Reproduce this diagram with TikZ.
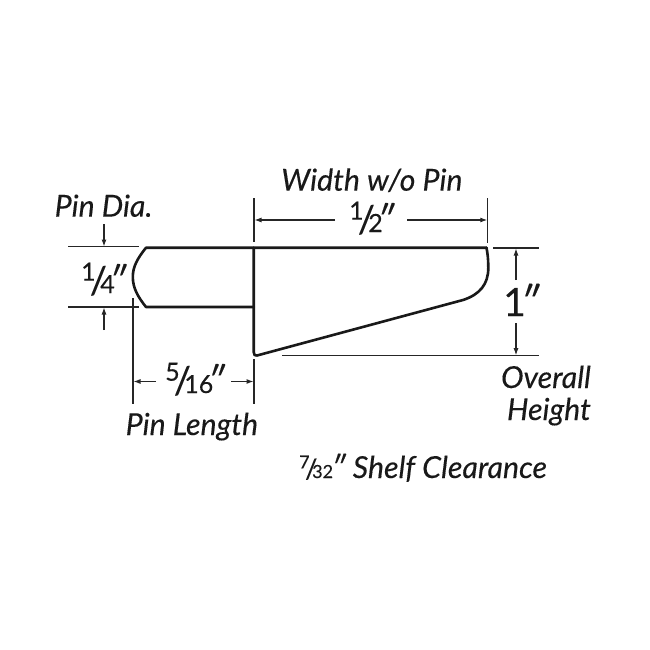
\documentclass[tikz,border=0pt]{standalone}
\usepackage{fontspec}
\setmainfont{Lato}[FakeBold=0.25]
\usetikzlibrary{arrows.meta}
\newcommand{\frc}[2]{\raisebox{.44em}{\fontsize{25}{28}\selectfont #1}\kern-.21em\raisebox{-.03em}{\fontsize{38}{40}\selectfont /}\kern-.24em{\fontsize{25}{28}\selectfont #2}}
\newcommand{\prm}[2]{\kern#2\relax{\fontsize{#1}{#1}\selectfont\itshape ″}}
\tikzset{
  x=1pt,y=-1pt,
  part/.style={line width=2.6pt,line join=round,line cap=round,black!90},
  ext/.style={line width=1.1pt,black!85},
  dim/.style={line width=1.1pt,black!85,-{Latex[length=7pt,width=5pt]}},
  lab/.style={inner sep=0pt,anchor=base west,font=\fontsize{30.3}{34}\selectfont\itshape,text=black!90},
  num/.style={inner sep=0pt,anchor=base west,font=\fontsize{28}{34}\selectfont,text=black!90}
}
\begin{document}
\begin{tikzpicture}
\useasboundingbox (0,0) rectangle (650,650);
\coordinate (pinTL) at (146,247.7);
\coordinate (pinBL) at (146,307);
\coordinate (pinBR) at (253.7,307);
\coordinate (wallT) at (253.7,247.7);
\coordinate (topR) at (486.5,247.7);
\coordinate (wedge) at (463,300);
\coordinate (wallB) at (257,355.5);
\draw[part] (topR) -- (pinTL) .. controls (137,259) and (132.8,267) .. (132.8,277) .. controls (132.8,288) and (138,297) .. (pinBL) -- (pinBR);
\draw[part] (wallT) -- (253.7,352) .. controls (253.7,355) and (255,356) .. (wallB) -- (wedge) .. controls (480,294.5) and (488.3,284) .. (488.3,268) .. controls (488.3,259) and (487.5,253) .. (topR);
\coordinate (a1) at (68,246.7); \coordinate (a2) at (139,246.7);
\coordinate (b1) at (68,307); \coordinate (b2) at (139,307);
\draw[ext] (a1) -- (a2);
\draw[ext] (b1) -- (b2);
\coordinate (c1) at (133,298); \coordinate (c2) at (133,404);
\draw[ext] (c1) -- (c2);
\coordinate (d1) at (254,359); \coordinate (d2) at (254,404);
\draw[ext] (d1) -- (d2);
\coordinate (e1) at (254,198); \coordinate (e2) at (254,242);
\draw[ext] (e1) -- (e2);
\coordinate (f1) at (487.8,198); \coordinate (f2) at (487.8,243);
\draw[ext] (f1) -- (f2);
\coordinate (g1) at (493,248); \coordinate (g2) at (539,248);
\draw[ext] (g1) -- (g2);
\coordinate (h1) at (282,355.7); \coordinate (h2) at (539,355.7);
\draw[ext] (h1) -- (h2);
\coordinate (i1) at (104,224); \coordinate (i2) at (104,246.5);
\draw[dim] (i1) -- (i2);
\coordinate (j1) at (104,330); \coordinate (j2) at (104,307.5);
\draw[dim] (j1) -- (j2);
\coordinate (k1) at (156,381.5); \coordinate (k2) at (133.5,381.5);
\draw[dim] (k1) -- (k2);
\coordinate (l1) at (231,381.5); \coordinate (l2) at (253.5,381.5);
\draw[dim] (l1) -- (l2);
\coordinate (m1) at (335,220); \coordinate (m2) at (254.5,220);
\draw[dim] (m1) -- (m2);
\coordinate (n1) at (407,220); \coordinate (n2) at (487.3,220);
\draw[dim] (n1) -- (n2);
\coordinate (o1) at (516,280); \coordinate (o2) at (516,248.5);
\draw[dim] (o1) -- (o2);
\coordinate (p1) at (516,323); \coordinate (p2) at (516,355.2);
\draw[dim] (p1) -- (p2);
\node[lab] (tw) at (281,190.7) {Width w/o Pin};
\node[lab] (tp) at (54.5,216.7) {Pin Dia.};
\node[lab] (tl) at (125.5,435) {Pin Length};
\node[lab,anchor=base east] (to) at (591,388) {Overall};
\node[lab,anchor=base east] (th) at (591,420) {Height};
\node[lab] (ts) at (299,478) {\scalebox{.72}{\upshape\frc{7}{32}}\kern-2pt″ Shelf Clearance};
\node[num] (vq) at (81,293) {\frc{1}{4}\prm{36}{-6pt}};
\node[num] (vf) at (165,393) {\frc{5}{16}\prm{36}{-6pt}};
\node[num] (vh) at (349,232) {\frc{1}{2}\prm{36}{-6pt}};
\node[num,font=\fontsize{39}{44}\selectfont] (vo) at (503,316) {1\prm{40}{-6pt}};
\end{tikzpicture}
\end{document}
